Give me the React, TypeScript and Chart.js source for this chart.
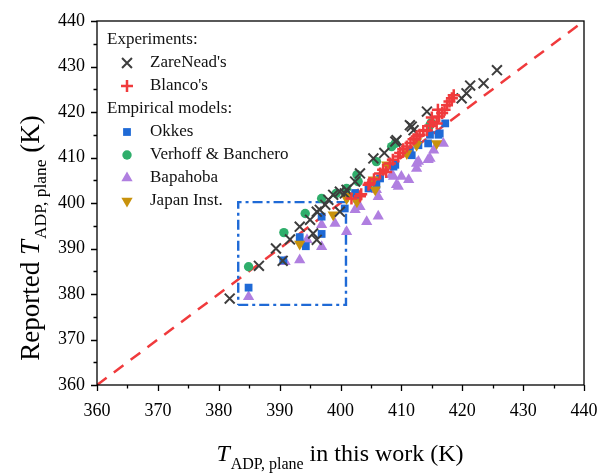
import React, { useEffect, useRef } from 'react';
import { Chart, registerables } from 'chart.js';

Chart.register(...registerables);

const SERIF = '"Liberation Serif", "Times New Roman", serif';

// ---- data ----
const zareneadX = [381.8, 386.6, 389.4, 390.5, 391.7, 393.3, 395.0, 395.5, 396.1, 396.1, 396.6, 397.5, 398.0, 398.8, 399.9, 399.9, 400.7, 401.0, 402.4, 403.2, 405.4, 407.2, 409.0, 409.2, 411.4, 411.7, 412.0, 414.2, 419.9, 420.7, 421.3, 423.5, 425.7];
const zareneadY = [379.0, 386.2, 390.0, 387.3, 392.0, 394.8, 396.3, 393.3, 391.9, 398.1, 398.5, 399.6, 400.7, 401.8, 398.1, 402.5, 402.1, 402.9, 404.7, 406.5, 409.8, 411.0, 413.5, 413.8, 417.1, 416.8, 416.0, 420.1, 423.0, 424.1, 425.8, 426.3, 429.2];

const blancoX = [401.8, 403.2, 403.4, 404.6, 404.8, 405.5, 406.5, 407.0, 407.5, 408.1, 408.6, 409.5, 409.8, 410.3, 410.9, 411.5, 412.0, 412.5, 413.0, 413.6, 414.2, 414.7, 415.0, 415.2, 415.8, 416.0, 416.2, 416.7, 417.1, 417.5, 417.9, 418.3, 418.6];
const blancoY = [401.0, 401.5, 401.9, 404.0, 404.4, 405.2, 406.5, 407.3, 406.8, 408.7, 409.5, 410.2, 411.0, 411.8, 412.4, 413.2, 414.0, 414.6, 415.0, 415.8, 416.0, 417.0, 418.8, 417.8, 417.5, 420.5, 419.0, 419.8, 420.5, 421.5, 422.3, 423.0, 423.7];

const okkesX = [384.9, 390.6, 393.3, 394.3, 396.9, 396.9, 400.7, 402.4, 402.7, 404.6, 405.9, 406.5, 408.7, 409.0, 411.4, 411.7, 412.8, 414.4, 414.7, 416.1, 416.3, 417.2];
const okkesY = [381.4, 387.4, 392.5, 390.5, 393.2, 397.0, 398.8, 402.2, 401.0, 403.2, 404.0, 405.4, 408.0, 408.4, 411.6, 410.5, 412.7, 413.1, 415.0, 415.0, 415.3, 417.5];

const verhoffX = [384.9, 390.7, 394.2, 396.9, 399.3, 401.0, 402.7, 402.9, 405.9, 408.4, 409.0, 414.7, 414.9];
const verhoffY = [386.0, 393.5, 397.7, 401.0, 402.1, 403.2, 406.2, 404.7, 409.1, 412.4, 413.1, 417.1, 417.6];

const bapahobaX = [384.9, 390.9, 393.3, 394.5, 396.9, 396.9, 399.1, 401.0, 402.4, 403.2, 404.3, 405.9, 406.2, 406.2, 408.4, 408.7, 409.2, 409.5, 410.0, 411.2, 412.5, 412.5, 412.8, 414.4, 414.7, 415.3, 416.9];
const bapahobaY = [379.4, 387.1, 387.5, 391.9, 390.4, 395.2, 395.5, 393.7, 398.5, 399.2, 395.9, 402.9, 397.1, 401.4, 406.2, 405.8, 404.0, 403.6, 405.8, 405.1, 407.6, 408.7, 409.1, 409.5, 409.8, 411.6, 413.1];

const japanX = [393.3, 398.8, 401.0, 401.2, 402.7, 405.4, 405.7, 407.6, 410.9, 412.5, 412.5, 415.8];
const japanY = [391.0, 397.4, 401.0, 401.5, 400.3, 405.1, 402.9, 408.4, 410.9, 412.7, 413.5, 413.1];

const parityX = [360, 440];
const parityY = [360, 440];

const boxX = [383.2, 400.9, 400.9, 383.2, 383.2];
const boxY = [377.6, 377.6, 400.2, 400.2, 377.6];

const axisMin = 360;
const axisMax = 440;
const majorStep = 10;
const minorStep = 5;

const legendTitles = ['Experiments:', 'Empirical models:'];
const seriesNames = ["ZareNead's", "Blanco's", 'Okkes', 'Verhoff & Banchero', 'Bapahoba', 'Japan Inst.'];

const COLORS = {
  zare: '#3d3d3d',
  blanco: '#f03a3c',
  okkes: '#1f6ad6',
  verhoff: '#2fae6b',
  bapahoba: '#b07fe0',
  japan: '#c8920c',
  box: '#1f6ad6',
};

const pts = (xs: number[], ys: number[]) => xs.map((x, i) => ({ x, y: ys[i] }));

type Marker = 'crossRot' | 'cross' | 'rect' | 'circle' | 'triangle' | 'triangleDown';

function drawMarker(ctx: CanvasRenderingContext2D, m: Marker, x: number, y: number, r: number, color: string, lw: number) {
  ctx.save();
  ctx.fillStyle = color;
  ctx.strokeStyle = color;
  ctx.lineWidth = lw;
  ctx.beginPath();
  if (m === 'crossRot') {
    const o = r * Math.SQRT1_2;
    ctx.moveTo(x - o, y - o); ctx.lineTo(x + o, y + o);
    ctx.moveTo(x - o, y + o); ctx.lineTo(x + o, y - o);
    ctx.stroke();
  } else if (m === 'cross') {
    ctx.moveTo(x - r, y); ctx.lineTo(x + r, y);
    ctx.moveTo(x, y - r); ctx.lineTo(x, y + r);
    ctx.stroke();
  } else if (m === 'rect') {
    const s = r * Math.SQRT1_2;
    ctx.fillRect(x - s, y - s, 2 * s, 2 * s);
  } else if (m === 'circle') {
    ctx.arc(x, y, r, 0, Math.PI * 2);
    ctx.fill();
  } else {
    const base = m === 'triangle' ? 0 : Math.PI;
    for (let k = 0; k < 3; k++) {
      const a = base + (k * 2 * Math.PI) / 3;
      const px = x + Math.sin(a) * r;
      const py = y - Math.cos(a) * r;
      if (k === 0) ctx.moveTo(px, py); else ctx.lineTo(px, py);
    }
    ctx.closePath();
    ctx.fill();
  }
  ctx.restore();
}

const extrasPlugin = {
  id: 'extras',
  afterDraw(chart: any) {
    const ctx: CanvasRenderingContext2D = chart.ctx;
    const a = chart.chartArea;
    const xs = chart.scales.x;
    const ys = chart.scales.y;
    ctx.save();
    // frame
    ctx.strokeStyle = '#000';
    ctx.lineWidth = 1.3;
    ctx.strokeRect(a.left, a.top, a.right - a.left, a.bottom - a.top);
    // ticks (outward, major + minor)
    ctx.beginPath();
    for (let v = axisMin; v <= axisMax + 1e-9; v += minorStep) {
      const major = Math.abs(v % majorStep) < 1e-9;
      const len = major ? 6 : 3.5;
      const px = Math.round(xs.getPixelForValue(v)) + 0.5;
      ctx.moveTo(px, a.bottom); ctx.lineTo(px, a.bottom + len);
      const py = Math.round(ys.getPixelForValue(v)) + 0.5;
      ctx.moveTo(a.left, py); ctx.lineTo(a.left - len, py);
    }
    ctx.stroke();

    // legend
    ctx.fillStyle = '#111';
    ctx.textBaseline = 'middle';
    ctx.textAlign = 'left';
    ctx.font = `17px ${SERIF}`;
    const headX = 107, markX = 127, textX = 150;
    const rowY = [40, 63, 86, 109, 132, 155, 178, 201];
    ctx.fillText(legendTitles[0], headX, rowY[0]);
    ctx.fillText(legendTitles[1], headX, rowY[3]);
    const items: { m: Marker; c: string; r: number; lw: number; row: number; name: string }[] = [
      { m: 'crossRot', c: COLORS.zare, r: 7, lw: 2, row: 1, name: seriesNames[0] },
      { m: 'cross', c: COLORS.blanco, r: 6, lw: 2.5, row: 2, name: seriesNames[1] },
      { m: 'rect', c: COLORS.okkes, r: 5.5, lw: 0, row: 4, name: seriesNames[2] },
      { m: 'circle', c: COLORS.verhoff, r: 4.7, lw: 0, row: 5, name: seriesNames[3] },
      { m: 'triangle', c: COLORS.bapahoba, r: 6.5, lw: 0, row: 6, name: seriesNames[4] },
      { m: 'triangleDown', c: COLORS.japan, r: 6.5, lw: 0, row: 7, name: seriesNames[5] },
    ];
    for (const it of items) {
      drawMarker(ctx, it.m, markX, rowY[it.row], it.r, it.c, it.lw);
      ctx.fillStyle = '#111';
      ctx.fillText(it.name, textX, rowY[it.row]);
    }

    // x axis title
    ctx.fillStyle = '#000';
    ctx.textBaseline = 'alphabetic';
    const fMain = `24px ${SERIF}`;
    const fItal = `italic 24px ${SERIF}`;
    const fSub = `16px ${SERIF}`;
    const tT = 'T', tSub = 'ADP, plane', tX = ' in this work (K)';
    ctx.font = fItal; const wT = ctx.measureText(tT).width;
    ctx.font = fSub; const wS = ctx.measureText(tSub).width;
    ctx.font = fMain; const wX = ctx.measureText(tX).width;
    const total = wT + 1 + wS + wX;
    let cx = 340 - total / 2;
    const baseY = 461;
    ctx.font = fItal; ctx.fillText(tT, cx, baseY); cx += wT + 1;
    ctx.font = fSub; ctx.fillText(tSub, cx, baseY + 8); cx += wS;
    ctx.font = fMain; ctx.fillText(tX, cx, baseY);

    // y axis title (rotated)
    const fMainY = `27px ${SERIF}`;
    const fItalY = `italic 27px ${SERIF}`;
    const fSubY = `17.5px ${SERIF}`;
    const tR = 'Reported ', tK = ' (K)';
    ctx.font = fMainY; const wR = ctx.measureText(tR).width; const wK = ctx.measureText(tK).width;
    ctx.font = fItalY; const wTY = ctx.measureText(tT).width;
    ctx.font = fSubY; const wSY = ctx.measureText(tSub).width;
    const totY = wR + wTY + 1 + wSY + wK;
    ctx.save();
    ctx.translate(39, 238 + totY / 2);
    ctx.rotate(-Math.PI / 2);
    let lx = 0;
    ctx.font = fMainY; ctx.fillText(tR, lx, 0); lx += wR;
    ctx.font = fItalY; ctx.fillText(tT, lx, 0); lx += wTY + 1;
    ctx.font = fSubY; ctx.fillText(tSub, lx, 7); lx += wSY;
    ctx.font = fMainY; ctx.fillText(tK, lx, 0);
    ctx.restore();

    ctx.restore();
  },
};

export default function App() {
  const ref = useRef<HTMLCanvasElement | null>(null);
  useEffect(() => {
    if (!ref.current) return;
    const chart = new Chart(ref.current, {
      type: 'scatter',
      data: {
        datasets: [
          {
            label: seriesNames[1], data: pts(blancoX, blancoY), order: 0,
            pointStyle: 'cross', pointRadius: 6, borderWidth: 2.5,
            borderColor: COLORS.blanco, backgroundColor: COLORS.blanco,
          },
          {
            label: seriesNames[0], data: pts(zareneadX, zareneadY), order: 1,
            pointStyle: 'crossRot', pointRadius: 7, borderWidth: 2,
            borderColor: COLORS.zare, backgroundColor: COLORS.zare,
          },
          {
            label: seriesNames[5], data: pts(japanX, japanY), order: 2,
            pointStyle: 'triangle', rotation: 180, pointRadius: 6.5, borderWidth: 0,
            borderColor: COLORS.japan, backgroundColor: COLORS.japan,
          },
          {
            label: seriesNames[2], data: pts(okkesX, okkesY), order: 3,
            pointStyle: 'rect', pointRadius: 5.5, borderWidth: 0,
            borderColor: COLORS.okkes, backgroundColor: COLORS.okkes,
          },
          {
            label: seriesNames[3], data: pts(verhoffX, verhoffY), order: 4,
            pointStyle: 'circle', pointRadius: 4.7, borderWidth: 0,
            borderColor: COLORS.verhoff, backgroundColor: COLORS.verhoff,
          },
          {
            label: seriesNames[4], data: pts(bapahobaX, bapahobaY), order: 5,
            pointStyle: 'triangle', pointRadius: 6.5, borderWidth: 0,
            borderColor: COLORS.bapahoba, backgroundColor: COLORS.bapahoba,
          },
          {
            label: 'box', data: pts(boxX, boxY), order: 6, showLine: true,
            pointRadius: 0, borderColor: COLORS.box, borderWidth: 2.4,
            borderDash: [10, 4, 3, 4], fill: false,
          } as any,
          {
            label: 'y = x', data: pts(parityX, parityY), order: 7, showLine: true,
            pointRadius: 0, borderColor: COLORS.blanco, borderWidth: 2.5,
            borderDash: [12, 9], fill: false,
          } as any,
        ],
      },
      options: {
        animation: false,
        responsive: false,
        events: [],
        layout: { padding: { top: 21, right: 15, left: 0, bottom: 0 } },
        plugins: { legend: { display: false }, tooltip: { enabled: false } },
        scales: {
          x: {
            type: 'linear', min: axisMin, max: axisMax,
            grid: { display: false, drawTicks: false },
            border: { display: false },
            ticks: {
              stepSize: majorStep, padding: 15, color: '#000',
              font: { family: SERIF, size: 18 },
              maxRotation: 0, autoSkip: false,
            },
            afterFit: (s: any) => { s.height = 88; s.paddingLeft = 0; s.paddingRight = 0; },
          },
          y: {
            type: 'linear', min: axisMin, max: axisMax,
            grid: { display: false, drawTicks: false },
            border: { display: false },
            ticks: {
              stepSize: majorStep, padding: 12, color: '#000',
              font: { family: SERIF, size: 18 },
              autoSkip: false,
            },
            afterFit: (s: any) => { s.width = 97; s.paddingTop = 0; s.paddingBottom = 0; },
          },
        },
      },
      plugins: [extrasPlugin],
    } as any);
    return () => chart.destroy();
  }, []);
  return (
    <div style={{ position: 'absolute', left: 0, top: 0, width: 599, height: 473, background: '#fff' }}>
      <canvas ref={ref} width={599} height={473} style={{ width: 599, height: 473, display: 'block' }} />
    </div>
  );
}
